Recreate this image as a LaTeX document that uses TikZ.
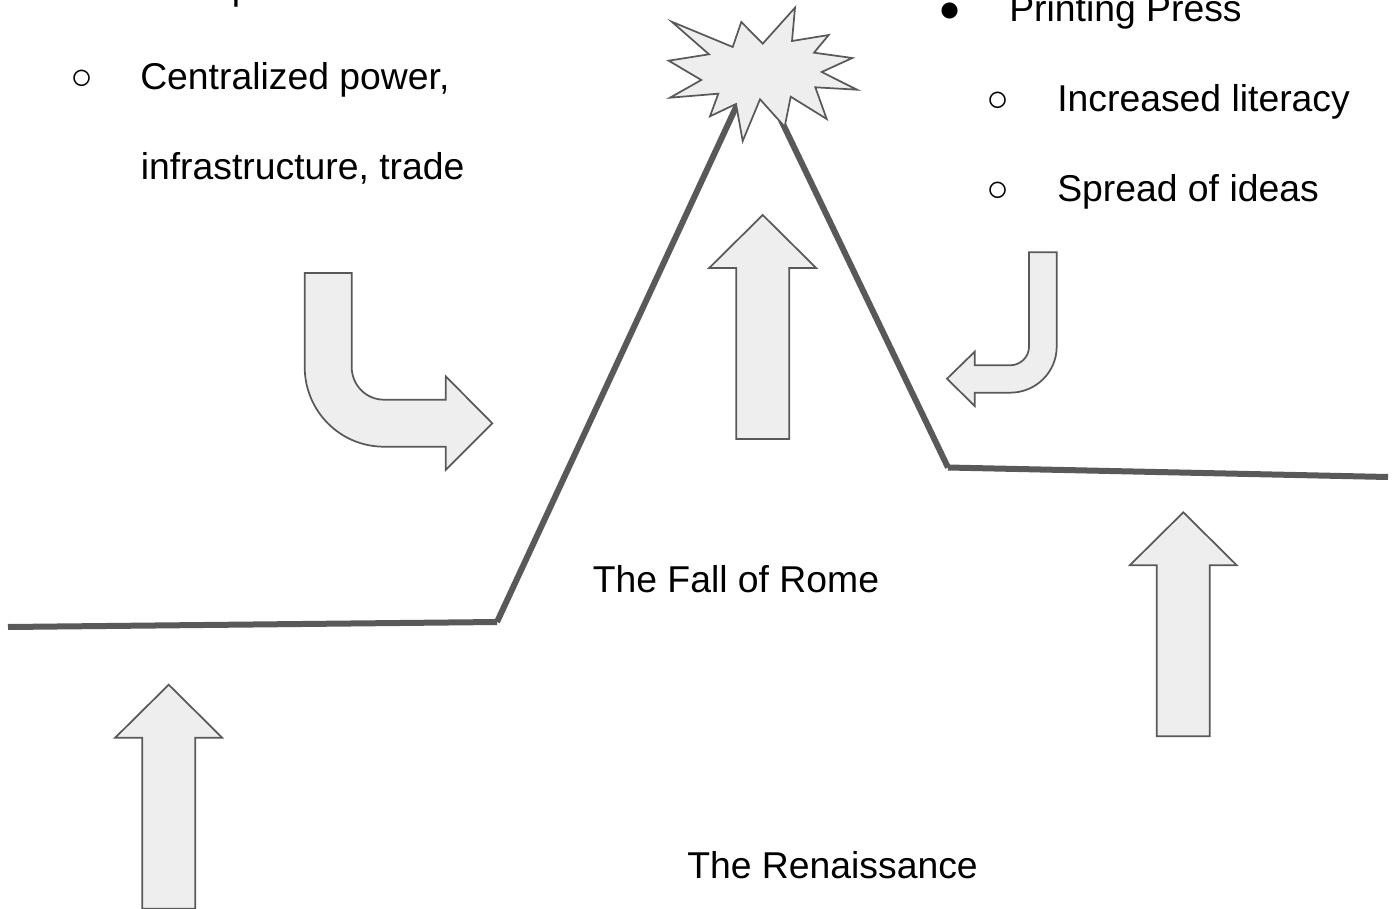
\documentclass[tikz,border=0pt]{standalone}
\usepackage{fontspec}
\setmainfont{Liberation Sans}
\tikzset{
	slidetext/.style={anchor=base west,inner sep=0pt,font=\fontsize{28}{34}\selectfont},
	block/.style={draw=linegrey,fill=shapegrey,line width=1.3pt,line join=miter},
	ridge/.style={draw=linegrey,line width=4.5pt}
}
\definecolor{linegrey}{HTML}{595959}
\definecolor{shapegrey}{HTML}{EEEEEE}

\begin{document}
\begin{tikzpicture}[x=0.75pt,y=-0.75pt]
	\useasboundingbox (0,0) rectangle (1398,909);
	%Outline of the peak
	\coordinate (riseA) at (8,627);
	\coordinate (riseB) at (497,622);
	\coordinate (peakL) at (737,105);
	\coordinate (peakR) at (781,120);
	\coordinate (fallA) at (948,467.5);
	\coordinate (fallB) at (1388,477);
	\draw [ridge] (riseA) -- (riseB);
	\draw [ridge] (riseB) -- (peakL);
	\draw [ridge] (peakR) -- (fallA);
	\draw [ridge] (fallA) -- (fallB);

	%Burst at the top
	\draw [block] (671.7,21.7) -- (732.7,47) -- (741.3,22) -- (762.7,43.7) -- (795,7.7)
	-- (792,41) -- (828.7,35) -- (814,52.7) -- (852.3,58) -- (821.7,72) -- (857,89.7)
	-- (815.3,87.3) -- (826.7,119) -- (790.7,96.7) -- (784.7,126.7) -- (760,99.3)
	-- (742.7,141) -- (736,104) -- (710,116.3) -- (718.3,93.7) -- (670,97.7)
	-- (701.3,80) -- (668.7,60.7) -- (709,54.3) -- cycle;

	%Straight arrows
	\foreach \tipx/\tipy in {168.7/684.7,762.7/215,1183.3/512.3} {
		\draw [block] (\tipx,\tipy) -- ++(53.5,53) -- ++(-27,0) -- ++(0,171) -- ++(-53,0)
		-- ++(0,-171) -- ++(-27,0) -- cycle;
	}

	%Bent arrow at the left
	\draw [block] (304.7,273) -- (351.7,273) -- (351.7,367)
	.. controls (351.7,385) and (366,399.7) .. (384,399.7)
	-- (445.7,399.7) -- (445.7,376.3) -- (492.3,423.3) -- (445.7,470) -- (445.7,446.7)
	-- (384,446.7) .. controls (340,446.7) and (304.7,411) .. (304.7,367) -- cycle;

	%Bent arrow at the right
	\draw [block] (1029,252.3) -- (1056.7,252.3) -- (1056.7,346.7)
	.. controls (1056.7,372) and (1036,392.7) .. (1010,392.7)
	-- (974.7,392.7) -- (974.7,406) -- (947,378.7) -- (974.7,351.7) -- (974.7,365.3)
	-- (1010,365.3) .. controls (1020.5,365.3) and (1029,357) .. (1029,346.7) -- cycle;

	%Text at the left
	\node [slidetext] (empire) at (45,0) {Roman Empire};
	\node [slidetext] (circleA) at (70,90) {○};
	\node [slidetext] (power) at (140,90) {Centralized power,};
	\node [slidetext] (trade) at (140.5,180) {infrastructure, trade};

	%Text at the right
	\node [slidetext] (dot) at (938,22) {●};
	\node [slidetext] (press) at (1009,22) {Printing Press};
	\node [slidetext] (circleB) at (986,112) {○};
	\node [slidetext] (literacy) at (1057,112) {Increased literacy};
	\node [slidetext] (circleC) at (986,202) {○};
	\node [slidetext] (ideas) at (1057,202) {Spread of ideas};

	%Labels of the regions
	\node [slidetext] (rome) at (592.5,592) {The Fall of Rome};
	\node [slidetext] (renaissance) at (687,878) {The Renaissance};
\end{tikzpicture}
\end{document}
